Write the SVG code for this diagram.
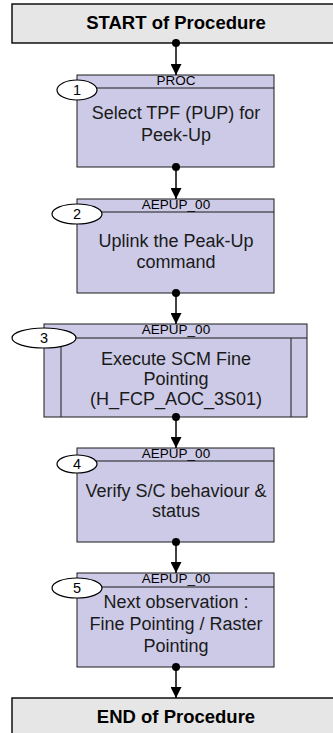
<svg xmlns="http://www.w3.org/2000/svg" width="333" height="733" viewBox="0 0 333 733">
  <defs>
    <style>
      .term { fill: #e6e6e6; stroke: #000; stroke-width: 1.4; }
      .step { fill: #cccae6; stroke: #1a1a1a; stroke-width: 1; }
      .sep { stroke: #1a1a1a; stroke-width: 1; fill: none; }
      .oval { fill: #fff; stroke: #000; stroke-width: 1.2; }
      .ttl { font-family: "Liberation Sans", Arial, sans-serif; font-size: 18.5px; font-weight: bold; text-anchor: middle; fill: #000; }
      .hdr { font-family: "Liberation Sans", Arial, sans-serif; font-size: 13.5px; text-anchor: middle; fill: #000; }
      .num { font-family: "Liberation Sans", Arial, sans-serif; font-size: 14.5px; text-anchor: middle; fill: #000; }
      .body { font-family: "Liberation Sans", Arial, sans-serif; font-size: 18px; text-anchor: middle; fill: #1a1a1a; }
      .link { stroke: #000; stroke-width: 1.5; fill: none; }
    </style>
    <marker id="arrow" markerWidth="11" markerHeight="11" refX="11" refY="5.5" orient="auto" markerUnits="userSpaceOnUse">
      <path d="M0,0 L11,5.5 L0,11 Z" fill="#000"/>
    </marker>
  </defs>

  <rect width="333" height="733" fill="#fff"/>

  <g id="start">
    <rect class="term" x="12" y="4" width="330" height="39"/>
    <text class="ttl" x="176" y="29">START of Procedure</text>
  </g>

  <g id="step1">
    <rect class="step" x="77" y="75" width="197" height="92"/>
    <line class="sep" x1="77" y1="88" x2="274" y2="88"/>
    <text class="hdr" x="176" y="85">PROC</text>
    <ellipse class="oval" cx="77" cy="90" rx="20" ry="10"/>
    <text class="num" x="77" y="95">1</text>
    <text class="body" x="176" y="119">Select TPF (PUP) for</text>
    <text class="body" x="176" y="141">Peek-Up</text>
  </g>

  <g id="step2">
    <rect class="step" x="77" y="199" width="197" height="94"/>
    <line class="sep" x1="77" y1="212" x2="274" y2="212"/>
    <text class="hdr" x="176" y="209">AEPUP_00</text>
    <ellipse class="oval" cx="77" cy="214" rx="25" ry="10"/>
    <text class="num" x="77" y="219">2</text>
    <text class="body" x="176" y="247">Uplink the Peak-Up</text>
    <text class="body" x="176" y="268">command</text>
  </g>

  <g id="step3">
    <rect class="step" x="44" y="324" width="263" height="93"/>
    <line class="sep" x1="44" y1="338" x2="307" y2="338"/>
    <line class="sep" x1="61" y1="338" x2="61" y2="417"/>
    <line class="sep" x1="291" y1="338" x2="291" y2="417"/>
    <text class="hdr" x="176" y="334">AEPUP_00</text>
    <ellipse class="oval" cx="44" cy="338" rx="32" ry="10"/>
    <text class="num" x="44" y="343">3</text>
    <text class="body" x="176" y="365">Execute SCM Fine</text>
    <text class="body" x="176" y="385">Pointing</text>
    <text class="body" x="176" y="405">(H_FCP_AOC_3S01)</text>
  </g>

  <g id="step4">
    <rect class="step" x="77" y="448" width="197" height="94"/>
    <line class="sep" x1="77" y1="461" x2="274" y2="461"/>
    <text class="hdr" x="176" y="458">AEPUP_00</text>
    <ellipse class="oval" cx="77" cy="464" rx="20" ry="9"/>
    <text class="num" x="77" y="469">4</text>
    <text class="body" x="176" y="497">Verify S/C behaviour &amp;</text>
    <text class="body" x="176" y="517">status</text>
  </g>

  <g id="step5">
    <rect class="step" x="77" y="573" width="197" height="94"/>
    <line class="sep" x1="77" y1="587" x2="274" y2="587"/>
    <text class="hdr" x="176" y="583">AEPUP_00</text>
    <ellipse class="oval" cx="77" cy="588" rx="25" ry="10"/>
    <text class="num" x="77" y="593">5</text>
    <text class="body" x="176" y="608">Next observation :</text>
    <text class="body" x="176" y="630">Fine Pointing / Raster</text>
    <text class="body" x="176" y="652">Pointing</text>
  </g>

  <g id="end">
    <rect class="term" x="12" y="698" width="330" height="40"/>
    <text class="ttl" x="176" y="723">END of Procedure</text>
  </g>

  <g id="connectors">
    <line class="link" x1="176" y1="43" x2="176" y2="75" marker-end="url(#arrow)"/>
    <circle cx="176" cy="43" r="4" fill="#000"/>
    <line class="link" x1="176" y1="167" x2="176" y2="199" marker-end="url(#arrow)"/>
    <circle cx="176" cy="167" r="4" fill="#000"/>
    <line class="link" x1="176" y1="293" x2="176" y2="324" marker-end="url(#arrow)"/>
    <circle cx="176" cy="293" r="4" fill="#000"/>
    <line class="link" x1="176" y1="417" x2="176" y2="448" marker-end="url(#arrow)"/>
    <circle cx="176" cy="417" r="4" fill="#000"/>
    <line class="link" x1="176" y1="542" x2="176" y2="573" marker-end="url(#arrow)"/>
    <circle cx="176" cy="542" r="4" fill="#000"/>
    <line class="link" x1="176" y1="667" x2="176" y2="698" marker-end="url(#arrow)"/>
    <circle cx="176" cy="667" r="4" fill="#000"/>
  </g>
</svg>
